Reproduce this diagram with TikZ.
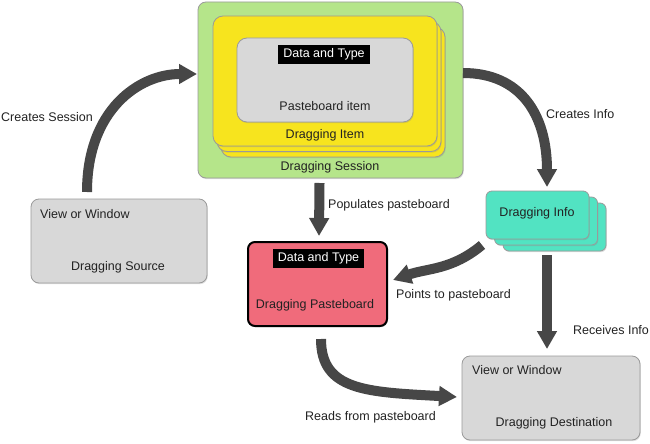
\documentclass[tikz,border=0pt]{standalone}
\usepackage{fontspec}
\setmainfont{Liberation Sans}
\usetikzlibrary{arrows.meta,calc,shadows}
\definecolor{sessgreen}{HTML}{B5E58A}
\definecolor{itemyellow}{HTML}{F7E41E}
\definecolor{boxgray}{HTML}{D8D8D8}
\definecolor{infoteal}{HTML}{52E3C2}
\definecolor{pbred}{HTML}{F06B7B}
\definecolor{arrowgray}{HTML}{474747}
\definecolor{edgegray}{HTML}{9A9A9A}
\definecolor{txt}{HTML}{222222}
\begin{document}
\begin{tikzpicture}[x=1pt,y=-1pt,
  font=\fontsize{12.5}{14}\selectfont, text=txt,
  card/.style={draw=edgegray, line width=0.8pt, inner sep=0pt, outer sep=0pt,
    drop shadow={shadow xshift=0.8pt,shadow yshift=-1.2pt,opacity=0.25}},
  datalabel/.style={fill=black, text=white, inner sep=0pt, minimum width=92pt, minimum height=19pt},
  lbl/.style={inner sep=0pt, anchor=west},
  flow/.style={draw=arrowgray, line width=10pt, -{Triangle[width=19pt,length=18pt]}}
]
\useasboundingbox (0,0) rectangle (650,444);

% Dragging Session
\node[card, fill=sessgreen, rounded corners=8pt, minimum width=265pt, minimum height=176pt] (sess) at (330.5,90) {};
% Stacked dragging items
\node[card, fill=itemyellow, rounded corners=10pt, minimum width=224pt, minimum height=130pt] (item3) at (333,92) {};
\node[card, fill=itemyellow, rounded corners=10pt, minimum width=224pt, minimum height=130pt] (item2) at (329,86.5) {};
\node[card, fill=itemyellow, rounded corners=10pt, minimum width=224pt, minimum height=130pt] (item) at (325,81) {};
\node[card, fill=boxgray, rounded corners=10pt, minimum width=176pt, minimum height=84pt] (pbitem) at (325,80) {};
\node[datalabel] (data1) at (324,54.5) {Data and Type};
\node[inner sep=0pt] (pbitemtxt) at (325,106) {Pasteboard item};
\node[inner sep=0pt] (itemtxt) at (325,135) {Dragging Item};
\node[inner sep=0pt] (sesstxt) at (330,167) {Dragging Session};

% Dragging Info stack
\node[card, fill=infoteal, rounded corners=6pt, minimum width=103pt, minimum height=48pt] (info3) at (554.5,227) {};
\node[card, fill=infoteal, rounded corners=6pt, minimum width=103pt, minimum height=48pt] (info2) at (546,221) {};
\node[card, fill=infoteal, rounded corners=6pt, minimum width=103pt, minimum height=48pt] (info) at (537.5,215) {};
\node[inner sep=0pt] (infotxt) at (537,213) {Dragging Info};

% Dragging Pasteboard
\node[draw=black, line width=2pt, fill=pbred, rounded corners=7pt, minimum width=139pt, minimum height=84pt,
  drop shadow={shadow xshift=0.8pt,shadow yshift=-1.2pt,opacity=0.3}] (pb) at (317.5,284) {};
\node[datalabel, minimum width=91pt] (data2) at (318.5,258.5) {Data and Type};
\node[inner sep=0pt] (pbtxt) at (315,305) {Dragging Pasteboard};

% Dragging Source
\node[card, fill=boxgray, rounded corners=8pt, minimum width=176pt, minimum height=84pt] (src) at (119,241) {};
\node[lbl] (srcvw) at (40,214) {View or Window};
\node[inner sep=0pt] (srctxt) at (118,267) {Dragging Source};

% Dragging Destination
\node[card, fill=boxgray, rounded corners=8pt, minimum width=178pt, minimum height=84pt] (dest) at (551,398) {};
\node[lbl] (destvw) at (472,370) {View or Window};
\node[inner sep=0pt] (desttxt) at (554,423) {Dragging Destination};

% Connectors
\draw[flow] ($(src.north)+(-32,-7)$) .. controls +(0,-82) and +(-58,0) .. ($(sess.west)+(-1,-16)$);
\draw[flow] ($(sess.east)+(0,-17)$) .. controls +(58,0) and +(0,-72) .. ($(info.north)+(9.5,-4)$);
\draw[flow] ($(sess.south)+(-11,5)$) -- ($(pb.north)+(1.5,-5)$);
\draw[flow] ($(info.south west)+(-4,6)$) .. controls +(-30,25) and +(35,-12) .. ($(pb.east)+(5,-4)$);
\draw[flow] ($(info.south)+(9.5,16)$) -- ($(dest.north)+(-4,-7)$);
\draw[flow] ($(pb.south)+(3.5,12)$) .. controls +(0,52) and +(-90,-5) .. ($(dest.west)+(-5,-1)$);

% Connector labels
\node[lbl] (l1) at (1,117) {Creates Session};
\node[lbl] (l2) at (546,114) {Creates Info};
\node[lbl] (l3) at (328,205) {Populates pasteboard};
\node[lbl] (l4) at (396,295) {Points to pasteboard};
\node[lbl] (l5) at (573,330) {Receives Info};
\node[lbl] (l6) at (305,417) {Reads from pasteboard};
\end{tikzpicture}
\end{document}
